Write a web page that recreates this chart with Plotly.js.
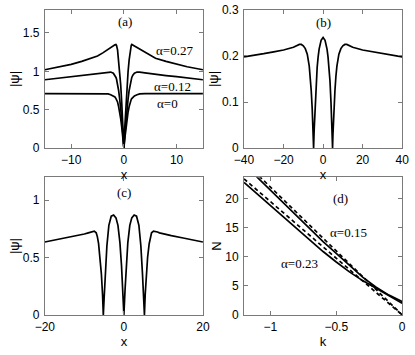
<!DOCTYPE html>
<html>
<head>
<meta charset="utf-8">
<script src="https://cdn.plot.ly/plotly-3.0.1.min.js"></script>
<style>
	html, body {margin: 0; padding: 0; background: #fff;}
	#chart {width: 415px; height: 355px;}
</style>
</head>
<body>
<div id="chart"></div>
<script>
//Panel (a): |psi| against x for three alpha values.
let xA = [-15, -12, -10, -8, -6, -5, -4, -3, -2.5, -2, -1.7, -1.5, -1.4, -1.2, -1, -0.8, -0.6, -0.4, -0.2, 0,
	0.2, 0.4, 0.6, 0.8, 1, 1.2, 1.4, 1.5, 1.7, 2, 2.5, 3, 4, 5, 6, 8, 10, 12, 15]
let psiAlpha0 = [0.71, 0.71, 0.71, 0.71, 0.71, 0.71, 0.71, 0.705, 0.695, 0.68, 0.665, 0.645, 0.635, 0.6, 0.54, 0.47, 0.38, 0.27, 0.14, 0,
	0.14, 0.27, 0.38, 0.47, 0.54, 0.6, 0.635, 0.645, 0.665, 0.68, 0.695, 0.705, 0.71, 0.71, 0.71, 0.71, 0.71, 0.71, 0.71]
let psiAlpha012 = [0.89, 0.915, 0.93, 0.945, 0.96, 0.97, 0.98, 0.99, 0.99, 0.975, 0.95, 0.92, 0.9, 0.84, 0.75, 0.64, 0.52, 0.37, 0.19, 0,
	0.19, 0.37, 0.52, 0.64, 0.75, 0.84, 0.9, 0.92, 0.95, 0.975, 0.99, 0.99, 0.98, 0.97, 0.96, 0.945, 0.93, 0.915, 0.89]
let psiAlpha027 = [1.02, 1.06, 1.09, 1.13, 1.17, 1.2, 1.24, 1.29, 1.31, 1.33, 1.345, 1.35, 1.34, 1.28, 1.15, 1.0, 0.82, 0.58, 0.3, 0,
	0.3, 0.58, 0.82, 1.0, 1.15, 1.28, 1.34, 1.35, 1.345, 1.33, 1.31, 1.29, 1.24, 1.2, 1.17, 1.13, 1.09, 1.06, 1.02]

//Panel (b)
let xB = [-40, -35, -30, -25, -20, -15, -13, -12, -11, -10, -9, -8, -7, -6.5, -6, -5.5, -5.2, -5, -4.8,
	-4.5, -4, -3.5, -3, -2.5, -2, -1, 0,
	1, 2, 2.5, 3, 3.5, 4, 4.5,
	4.8, 5, 5.2, 5.5, 6, 6.5, 7, 8, 9, 10, 11, 12, 13, 15, 20, 25, 30, 35, 40]
let psiB = [0.198, 0.201, 0.205, 0.209, 0.213, 0.219, 0.223, 0.225, 0.225, 0.222, 0.216, 0.204, 0.178, 0.156, 0.125, 0.085, 0.055, 0.03, 0,
	0.04, 0.1, 0.145, 0.175, 0.198, 0.215, 0.234, 0.24,
	0.234, 0.215, 0.198, 0.175, 0.145, 0.1, 0.04,
	0, 0.03, 0.055, 0.085, 0.125, 0.156, 0.178, 0.204, 0.216, 0.222, 0.225, 0.225, 0.223, 0.219, 0.213, 0.209, 0.205, 0.201, 0.198]

//Panel (c)
let xC = [-20, -17, -15, -12, -10, -9, -8.5, -8, -7.5, -7, -6.7, -6.4, -6, -5.7, -5.4, -5.2,
	-5, -4.7, -4.3, -3.8, -3.2, -2.6, -2, -1.5, -1, -0.6, -0.3, 0,
	0.3, 0.6, 1, 1.5, 2, 2.6, 3.2, 3.8, 4.3, 4.7, 5,
	5.2, 5.4, 5.7, 6, 6.4, 6.7, 7, 7.5, 8, 8.5, 9, 10, 12, 15, 17, 20]
let psiC = [0.635, 0.655, 0.67, 0.69, 0.705, 0.715, 0.722, 0.728, 0.73, 0.715, 0.68, 0.62, 0.5, 0.36, 0.18, 0,
	0.14, 0.36, 0.6, 0.78, 0.86, 0.87, 0.845, 0.78, 0.63, 0.43, 0.22, 0,
	0.22, 0.43, 0.63, 0.78, 0.845, 0.87, 0.86, 0.78, 0.6, 0.36, 0.14,
	0, 0.18, 0.36, 0.5, 0.62, 0.68, 0.715, 0.73, 0.728, 0.722, 0.715, 0.705, 0.69, 0.67, 0.655, 0.635]

//Panel (d): N against k, solid = numerics, dashed = approximation
let kD = [-1.2, -1.1, -1.0, -0.9, -0.8, -0.7, -0.6, -0.5, -0.4, -0.3, -0.2, -0.1, 0]
let nSolid015 = [25.9, 23.7, 21.5, 19.3, 17.1, 14.8, 12.6, 10.6, 8.5, 6.5, 4.8, 3.4, 2.3]
let nDash015 = [26.4, 24.2, 22.0, 19.8, 17.6, 15.4, 13.2, 11.0, 8.8, 6.6, 4.4, 2.2, 0]
let nSolid023 = [22.8, 20.8, 18.8, 16.8, 14.9, 12.9, 10.9, 9.1, 7.4, 5.9, 4.6, 3.2, 2.0]
let nDash023 = [23.4, 21.45, 19.5, 17.55, 15.6, 13.65, 11.7, 9.75, 7.8, 5.85, 3.9, 1.95, 0]

let black = "#000"
let frame = "#7a7a7a"
let sans = "Liberation Sans, Arial, sans-serif"
let serif = "Liberation Serif, Times New Roman, serif"

function trace(x, y, xaxis, yaxis, dash) {
	return {
		x: x, y: y, xaxis: xaxis, yaxis: yaxis,
		type: "scatter", mode: "lines",
		line: {color: black, width: 1.7, dash: dash || "solid"},
		hoverinfo: "skip"
	}
}

function axis(domain, range, tickvals, titleText, anchor, standoff, labelGap) {
	return {
		domain: domain,
		range: range,
		anchor: anchor,
		tickvals: tickvals,
		ticktext: tickvals.map((v) => {return v < 0 ? "\u2212" + Math.abs(v) : String(v)}),
		ticks: "inside",
		ticklen: 4,
		tickcolor: frame,
		ticklabelstandoff: labelGap,
		showline: true,
		linecolor: frame,
		linewidth: 1,
		mirror: "ticks",
		showgrid: false,
		zeroline: false,
		tickfont: {family: sans, size: 12, color: black},
		title: {text: titleText, font: {family: sans, size: 13, color: black}, standoff: standoff},
		automargin: false
	}
}

let data = [
	trace(xA, psiAlpha027, "x", "y"),
	trace(xA, psiAlpha012, "x", "y"),
	trace(xA, psiAlpha0, "x", "y"),
	trace(xB, psiB, "x2", "y2"),
	trace(xC, psiC, "x3", "y3"),
	trace(kD, nSolid015, "x4", "y4"),
	trace(kD, nDash015, "x4", "y4", "4px,3px"),
	trace(kD, nSolid023, "x4", "y4"),
	trace(kD, nDash023, "x4", "y4", "4px,3px")
]

let topRow = [0.583, 0.972]
let bottomRow = [0.113, 0.501]
let leftCol = [0.108, 0.489]
let rightCol = [0.588, 0.969]

function label(text, x, y, xref, yref) {
	return {text: text, x: x, y: y, xref: xref, yref: yref, showarrow: false,
		font: {family: serif, size: 13, color: black}}
}

let layout = {
	width: 415,
	height: 355,
	margin: {l: 0, r: 0, t: 0, b: 0},
	paper_bgcolor: "#fff",
	plot_bgcolor: "#fff",
	showlegend: false,
	xaxis: axis(leftCol, [-15, 15], [-10, 0, 10], "x", "y", 0, 1),
	yaxis: axis(topRow, [0, 1.8], [0, 0.5, 1, 1.5], "|\u03c8|", "x", 0, 2),
	xaxis2: axis(rightCol, [-40, 40], [-40, -20, 0, 20, 40], "x", "y2", 0, 1),
	yaxis2: axis(topRow, [0, 0.3], [0, 0.1, 0.2, 0.3], "|\u03c8|", "x2", 0, 2),
	xaxis3: axis(leftCol, [-20, 20], [-20, 0, 20], "x", "y3", 0, 1),
	yaxis3: axis(bottomRow, [0, 1.2], [0, 0.5, 1], "|\u03c8|", "x3", 0, 2),
	xaxis4: axis(rightCol, [-1.2, 0], [-1, -0.5, 0], "k", "y4", 0, 1),
	yaxis4: axis(bottomRow, [0, 23.7], [0, 5, 10, 15, 20], "N", "x4", 0, 2),
	annotations: [
		label("(a)", 0.2, 1.65, "x", "y"),
		label("\u03b1=0.27", 9.6, 1.27, "x", "y"),
		label("\u03b1=0.12", 9.2, 0.8, "x", "y"),
		label("\u03b1=0", 8.3, 0.58, "x", "y"),
		label("(b)", 0, 0.272, "x2", "y2"),
		label("(c)", 0, 1.07, "x3", "y3"),
		label("(d)", -0.47, 20.1, "x4", "y4"),
		label("\u03b1=0.15", -0.41, 14.2, "x4", "y4"),
		label("\u03b1=0.23", -0.78, 8.9, "x4", "y4")
	]
}

Plotly.newPlot(document.getElementById("chart"), data, layout, {staticPlot: true})
</script>
</body>
</html>
